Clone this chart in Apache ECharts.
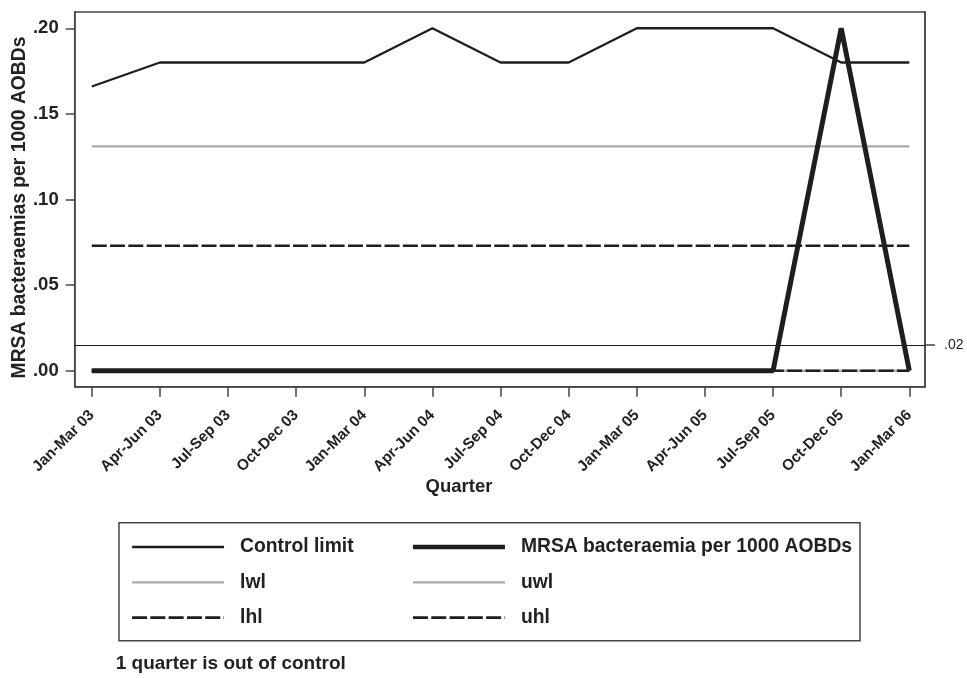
<!DOCTYPE html>
<html>
<head>
<meta charset="utf-8">
<script src="https://cdn.jsdelivr.net/npm/echarts@6/dist/echarts.min.js"></script>
<style>html,body{margin:0;padding:0;background:#fff;}#c{width:967px;height:678px;}</style>
</head>
<body>
<div id="c"></div>
<script>
const quarters = ['Jan-Mar 03','Apr-Jun 03','Jul-Sep 03','Oct-Dec 03','Jan-Mar 04','Apr-Jun 04','Jul-Sep 04','Oct-Dec 04','Jan-Mar 05','Apr-Jun 05','Jul-Sep 05','Oct-Dec 05','Jan-Mar 06'];
const controlLimit = [0.166,0.18,0.18,0.18,0.18,0.20,0.18,0.18,0.20,0.20,0.20,0.18,0.18];
const mrsa = [0,0,0,0,0,0,0,0,0,0,0,0.20,0];
const lwl = [0,0,0,0,0,0,0,0,0,0,0,0,0];
const uwl = [0.131,0.131,0.131,0.131,0.131,0.131,0.131,0.131,0.131,0.131,0.131,0.131,0.131];
const lhl = [0,0,0,0,0,0,0,0,0,0,0,0,0];
const uhl = [0.073,0.073,0.073,0.073,0.073,0.073,0.073,0.073,0.073,0.073,0.073,0.073,0.073];
const yTicks = [0,0.05,0.10,0.15,0.20];
const refValue = 0.015;
const refLabel = '.02';
const note = '1 quarter is out of control';

const FF = "'Liberation Sans', Arial, sans-serif";
const DARK = '#1e1e1e';
const GREY = '#ababab';
const AX = '#444';
const DASH = [15,3.3];
const pts = arr => arr.map((v,i)=>[i,v]);
const xIdx = quarters.map((q,i)=>i);
const fmtY = v => v.toFixed(2).replace(/^0/,'');

const styles = {
  'Control limit': {color:DARK, width:2.3, type:'solid'},
  'MRSA bacteraemia per 1000 AOBDs': {color:DARK, width:4.5, type:'solid'},
  'lwl': {color:GREY, width:2.3, type:'solid'},
  'uwl': {color:GREY, width:2.3, type:'solid'},
  'lhl': {color:DARK, width:2.7, type:DASH},
  'uhl': {color:DARK, width:2.7, type:DASH}
};
const legItem = n => ({name:n, lineStyle:Object.assign({}, styles[n]), itemStyle:{opacity:0}});

const chart = echarts.init(document.getElementById('c'), null, {renderer:'canvas'});
const legendCommon = {
  orient:'vertical', selectedMode:false, padding:0,
  itemWidth:92, itemHeight:20, itemGap:15.3,
  itemStyle:{opacity:0},
  textStyle:{fontFamily:FF, fontSize:19.3, fontWeight:'bold', color:'#222', padding:[0,0,0,11], lineHeight:20}
};
chart.setOption({
  animation:false,
  backgroundColor:'#fff',
  grid:{left:74.7, right:42, top:12, bottom:291.3, show:true, borderColor:AX, borderWidth:1.5, containLabel:false},
  xAxis:{
    type:'value', min:-0.25, max:12.23,
    axisLine:{show:true, onZero:false, lineStyle:{color:AX, width:1.5}},
    axisTick:{show:true, inside:false, customValues:xIdx, length:10, lineStyle:{color:AX, width:1.5}},
    axisLabel:{customValues:xIdx, formatter:v=>quarters[Math.round(v)], rotate:45, margin:26,
      fontFamily:FF, fontSize:15.3, fontWeight:'bold', color:'#222'},
    splitLine:{show:false}
  },
  yAxis:[{
    type:'value', min:-0.0093, max:0.2095, position:'left',
    axisLine:{show:true, onZero:false, lineStyle:{color:AX, width:1.5}},
    axisTick:{show:true, inside:false, customValues:yTicks, length:9, lineStyle:{color:AX, width:1.5}},
    axisLabel:{customValues:yTicks, formatter:fmtY, margin:16, fontFamily:FF, fontSize:18.5, fontWeight:'bold', color:'#222'},
    splitLine:{show:false}
  },{
    type:'value', min:-0.0093, max:0.2095, position:'right',
    axisLine:{show:true, onZero:false, lineStyle:{color:AX, width:1.5}},
    axisTick:{show:true, inside:false, customValues:[refValue], length:10, lineStyle:{color:AX, width:1.5}},
    axisLabel:{customValues:[refValue], formatter:()=>refLabel, margin:19, fontFamily:FF, fontSize:14, color:'#222'},
    splitLine:{show:false}
  }],
  legend:[
    Object.assign({left:130.7, top:537, data:['Control limit','lwl','lhl'].map(legItem)}, legendCommon),
    Object.assign({left:410.7, top:537, data:['MRSA bacteraemia per 1000 AOBDs','uwl','uhl'].map(legItem)}, legendCommon)
  ],
  graphic:[
    {type:'rect', shape:{x:119, y:522.7, width:741, height:118}, style:{fill:'none', stroke:AX, lineWidth:1.5}, silent:true},
    {type:'text', x:20, y:207.5, rotation:Math.PI/2, style:{text:'MRSA bacteraemias per 1000 AOBDs', fontFamily:FF, fontSize:19.3, fontWeight:'bold', fill:'#222', align:'center', verticalAlign:'middle'}},
    {type:'text', x:459, y:487, style:{text:'Quarter', fontFamily:FF, fontSize:18.5, fontWeight:'bold', fill:'#222', align:'center', verticalAlign:'middle'}},
    {type:'text', x:115.7, y:664, style:{text:note, fontFamily:FF, fontSize:19, fontWeight:'bold', fill:'#222', align:'left', verticalAlign:'middle'}}
  ],
  series:[
    {name:'lwl', type:'line', data:pts(lwl), symbol:'none', lineStyle:styles['lwl'], itemStyle:{color:GREY}, z:2,
      markLine:{silent:true, symbol:'none', precision:4, label:{show:false}, lineStyle:{color:DARK, width:1.2, type:'solid'}, data:[{yAxis:refValue}]}},
    {name:'lhl', type:'line', data:pts(lhl), symbol:'none', lineStyle:styles['lhl'], itemStyle:{color:DARK}, z:3},
    {name:'uwl', type:'line', data:pts(uwl), symbol:'none', lineStyle:styles['uwl'], itemStyle:{color:GREY}, z:2},
    {name:'uhl', type:'line', data:pts(uhl), symbol:'none', lineStyle:styles['uhl'], itemStyle:{color:DARK}, z:3},
    {name:'Control limit', type:'line', data:pts(controlLimit), symbol:'none', lineStyle:styles['Control limit'], itemStyle:{color:DARK}, z:4},
    {name:'MRSA bacteraemia per 1000 AOBDs', type:'line', data:pts(mrsa), symbol:'none', lineStyle:{color:DARK, width:5}, itemStyle:{color:DARK}, z:5}
  ]
});
</script>
</body>
</html>
